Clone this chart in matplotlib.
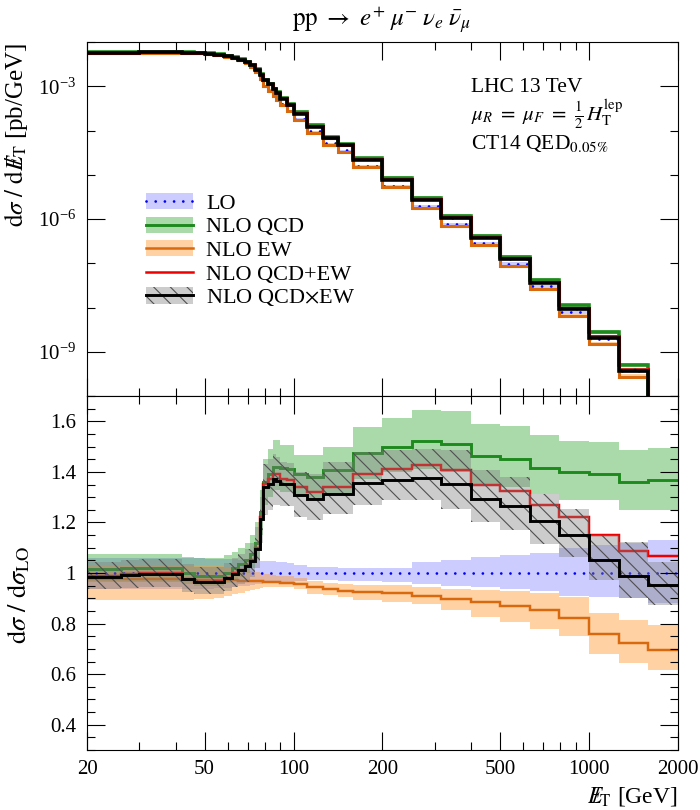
import numpy as np
import matplotlib
matplotlib.use("Agg")
import matplotlib.pyplot as plt
from matplotlib.patches import Patch
from matplotlib.lines import Line2D
from matplotlib.ticker import FixedLocator, MultipleLocator, NullFormatter

plt.rcParams['font.family'] = 'serif'
plt.rcParams['font.serif'] = ['Liberation Serif', 'DejaVu Serif']
plt.rcParams['mathtext.fontset'] = 'stix'
plt.rcParams['hatch.linewidth'] = 0.8

# bin edges in missing E_T [GeV]
edges = [20, 26, 30, 35, 42, 46, 50, 54, 58, 62, 65, 68.5, 71, 74, 77, 79, 82, 85.5, 87.5, 90,
         95, 100, 111, 126, 141, 158.5, 199.5, 251, 316, 398, 501, 631, 794, 1000, 1259, 1585, 2000]

# LO cross section [pb/GeV]
lo_xsec = [5.78e-3, 5.79e-3, 5.83e-3, 5.83e-3, 5.83e-3, 5.76e-3, 5.57e-3, 5.31e-3, 4.83e-3, 4.38e-3,
           3.94e-3, 3.38e-3, 2.82e-3, 2.14e-3, 1.50e-3, 1.03e-3, 8.11e-4, 6.19e-4, 5.19e-4, 3.88e-4,
           2.81e-4, 1.84e-4, 9.5e-5, 5.14e-5, 3.56e-5, 1.61e-5, 5.69e-6, 2.00e-6, 7.74e-7, 2.87e-7,
           9.72e-8, 3.01e-8, 7.94e-9, 1.99e-9, 3.77e-10, 5.2e-11]

# ratios to LO
lo_band_lo = [0.935, 0.935, 0.935, 0.935, 0.935, 0.937, 0.938, 0.94, 0.942, 0.945,
              0.948, 0.95, 0.952, 0.955, 0.957, 0.96, 0.962, 0.963, 0.964, 0.965,
              0.966, 0.97, 0.972, 0.971, 0.97, 0.968, 0.964, 0.958, 0.95, 0.945,
              0.937, 0.93, 0.909, 0.905, 0.90, 0.88]
lo_band_hi = [1.06, 1.06, 1.06, 1.06, 1.06, 1.058, 1.057, 1.056, 1.055, 1.054,
              1.053, 1.052, 1.051, 1.05, 1.049, 1.048, 1.047, 1.046, 1.045, 1.044,
              1.04, 1.03, 1.025, 1.022, 1.02, 1.018, 1.02, 1.044, 1.053, 1.063,
              1.07, 1.08, 1.098, 1.11, 1.12, 1.13]

qcd = [1.015, 1.02, 1.02, 1.02, 1.0, 0.99, 0.99, 0.99, 1.0, 1.02,
       1.035, 1.05, 1.075, 1.12, 1.24, 1.36, 1.39, 1.42, 1.42, 1.414,
       1.41, 1.39, 1.378, 1.406, 1.406, 1.474, 1.498, 1.521, 1.511, 1.461,
       1.452, 1.416, 1.398, 1.393, 1.36, 1.366]
qcd_lo = [0.965, 0.965, 0.965, 0.965, 0.955, 0.95, 0.95, 0.95, 0.96, 0.975,
          0.985, 1.0, 1.02, 1.05, 1.15, 1.27, 1.30, 1.33, 1.33, 1.32,
          1.32, 1.30, 1.29, 1.31, 1.31, 1.37, 1.40, 1.41, 1.40, 1.35,
          1.34, 1.314, 1.29, 1.287, 1.25, 1.25]
qcd_hi = [1.075, 1.075, 1.075, 1.075, 1.065, 1.06, 1.06, 1.06, 1.07, 1.085,
          1.10, 1.12, 1.15, 1.20, 1.33, 1.45, 1.49, 1.525, 1.525, 1.505,
          1.505, 1.465, 1.465, 1.498, 1.498, 1.577, 1.614, 1.646, 1.64, 1.588,
          1.581, 1.544, 1.524, 1.52, 1.485, 1.496]

ew = [0.978, 0.977, 0.976, 0.975, 0.974, 0.973, 0.972, 0.972, 0.971, 0.971,
      0.970, 0.970, 0.969, 0.968, 0.967, 0.966, 0.965, 0.964, 0.963, 0.962,
      0.960, 0.955, 0.945, 0.935, 0.930, 0.923, 0.919, 0.908, 0.896, 0.885,
      0.870, 0.853, 0.822, 0.757, 0.725, 0.697]
ew_lo = [0.893, 0.893, 0.893, 0.893, 0.895, 0.897, 0.898, 0.902, 0.908, 0.915,
         0.922, 0.928, 0.932, 0.937, 0.94, 0.943, 0.945, 0.945, 0.945, 0.945,
         0.945, 0.935, 0.918, 0.912, 0.905, 0.893, 0.885, 0.876, 0.853, 0.826,
         0.806, 0.78, 0.75, 0.681, 0.644, 0.615]
ew_hi = [1.03, 1.03, 1.03, 1.03, 1.03, 1.03, 1.03, 1.028, 1.025, 1.02,
         1.015, 1.01, 1.008, 1.005, 1.0, 0.998, 0.995, 0.993, 0.99, 0.99,
         0.988, 0.98, 0.97, 0.96, 0.955, 0.952, 0.951, 0.945, 0.938, 0.932,
         0.93, 0.919, 0.905, 0.84, 0.816, 0.793]

qcd_plus_ew = [0.987, 0.995, 0.999, 0.999, 0.977, 0.966, 0.965, 0.967, 0.981, 0.999,
               1.011, 1.028, 1.05, 1.10, 1.222, 1.352, 1.37, 1.392, 1.39, 1.372,
               1.366, 1.34, 1.32, 1.34, 1.34, 1.393, 1.413, 1.426, 1.406, 1.347,
               1.323, 1.268, 1.221, 1.149, 1.086, 1.066]

qcd_times_ew = [0.985, 0.993, 0.997, 0.997, 0.976, 0.965, 0.964, 0.966, 0.980, 0.998,
                1.010, 1.026, 1.048, 1.096, 1.215, 1.34, 1.353, 1.373, 1.365, 1.353,
                1.353, 1.307, 1.294, 1.314, 1.314, 1.356, 1.366, 1.377, 1.351, 1.294,
                1.264, 1.206, 1.149, 1.053, 0.987, 0.951]
prod_lo = [0.935, 0.94, 0.945, 0.945, 0.925, 0.915, 0.915, 0.915, 0.93, 0.945,
           0.955, 0.965, 0.985, 1.02, 1.12, 1.23, 1.25, 1.27, 1.27, 1.265,
           1.265, 1.22, 1.21, 1.235, 1.235, 1.27, 1.287, 1.287, 1.255, 1.2,
           1.17, 1.116, 1.063, 0.971, 0.90, 0.872]
prod_hi = [1.045, 1.05, 1.055, 1.055, 1.035, 1.025, 1.025, 1.025, 1.04, 1.06,
           1.075, 1.095, 1.12, 1.18, 1.30, 1.43, 1.45, 1.47, 1.46, 1.44,
           1.435, 1.40, 1.39, 1.44, 1.44, 1.48, 1.485, 1.49, 1.485, 1.406,
           1.38, 1.314, 1.255, 1.149, 1.122, 1.043]

edges = np.array(edges)
lo = np.array(lo_xsec)

# colours
c_lo, f_lo = '#0000ff', (0.5, 0.5, 1.0, 0.4)
c_qcd, f_qcd = '#1e8a1e', (0.17, 0.63, 0.17, 0.4)
c_ew, f_ew = '#d9690f', (1.0, 0.6, 0.2, 0.45)
c_sum = '#ee0000'
c_prod, f_prod = 'black', (0.5, 0.5, 0.5, 0.4)
dots = (0, (0.01, 3.3))


def draw(ax, norm, lw):
    ax.stairs(np.array(lo_band_hi) * norm, edges, baseline=np.array(lo_band_lo) * norm,
              fill=True, facecolor=f_lo, edgecolor='none', lw=0)
    ax.stairs(np.array(qcd_hi) * norm, edges, baseline=np.array(qcd_lo) * norm,
              fill=True, facecolor=f_qcd, edgecolor='none', lw=0)
    ax.stairs(np.array(ew_hi) * norm, edges, baseline=np.array(ew_lo) * norm,
              fill=True, facecolor=f_ew, edgecolor='none', lw=0)
    ax.stairs(np.ones(len(lo)) * norm, edges, baseline=None, color=c_lo, lw=2.0,
              linestyle=dots, capstyle='round')
    ax.stairs(np.array(qcd) * norm, edges, baseline=None, color=c_qcd, lw=lw)
    ax.stairs(np.array(ew) * norm, edges, baseline=None, color=c_ew, lw=lw * 0.85)
    ax.stairs(np.array(qcd_plus_ew) * norm, edges, baseline=None, color=c_sum, lw=lw * 0.85)
    ax.stairs(np.array(prod_hi) * norm, edges, baseline=np.array(prod_lo) * norm,
              fill=True, facecolor=f_prod, edgecolor='#505050', lw=0, hatch='\\\\')
    ax.stairs(np.array(qcd_times_ew) * norm, edges, baseline=None, color=c_prod, lw=lw)


fig = plt.figure(figsize=(7, 8.1), dpi=100)
ax1 = fig.add_axes([87 / 700, 414 / 810, 591 / 700, 354 / 810])
ax2 = fig.add_axes([87 / 700, 60 / 810, 591 / 700, 354 / 810])

draw(ax1, lo, 2.6)
draw(ax2, np.ones(len(lo)), 2.1)

for ax in (ax1, ax2):
    ax.set_xscale('log')
    ax.set_xlim(20, 2000)
    ax.xaxis.set_major_locator(FixedLocator([20, 50, 100, 200, 500, 1000, 2000]))
    ax.xaxis.set_minor_locator(FixedLocator([30, 40, 60, 70, 80, 90, 300, 400, 600, 700, 800, 900]))
    ax.xaxis.set_minor_formatter(NullFormatter())
    ax.tick_params(which='both', direction='in', top=True, right=True, width=0.8, labelsize=15)
    ax.tick_params(which='major', length=13)
    ax.tick_params(which='minor', length=5.5)
    for s in ax.spines.values():
        s.set_linewidth(0.8)

# upper panel
ax1.set_yscale('log')
ax1.set_ylim(1e-10, 1e-2)
ax1.yaxis.set_major_locator(FixedLocator([1e-9, 1e-6, 1e-3]))
ax1.yaxis.set_minor_locator(FixedLocator([10.0 ** k for k in range(-10, -1)]))
ax1.yaxis.set_minor_formatter(NullFormatter())
ax1.tick_params(labelbottom=False)
ax1.tick_params(axis='y', pad=8)

# lower panel
ax2.set_ylim(0.3, 1.7)
ax2.set_yticks([0.4, 0.6, 0.8, 1.0, 1.2, 1.4, 1.6], labels=['0.4', '0.6', '0.8', '1', '1.2', '1.4', '1.6'])
ax2.yaxis.set_minor_locator(MultipleLocator(0.05))
ax2.set_xticks([20, 50, 100, 200, 500, 1000, 2000], labels=['20', '50', '100', '200', '500', '1000', '2000'])
ax2.tick_params(axis='y', pad=8)
ax2.tick_params(axis='x', pad=7)

# texts
fig.text(382 / 700, 1 - 20 / 810,
         r'$\mathrm{pp}\ \rightarrow\ e^{+}\;\mu^{-}\;\nu_{e}\;\bar{\nu}_{\mu}$',
         ha='center', va='center', fontsize=18)
fig.text(471 / 700, 1 - 87 / 810, 'LHC 13 TeV', ha='left', va='center', fontsize=15.5)
fig.text(471 / 700, 1 - 114 / 810, r'$\mu_R\ =\ \mu_F\ =\ \frac{1}{2}\,H_\mathrm{T}^\mathrm{lep}$',
         ha='left', va='center', fontsize=15)
fig.text(471 / 700, 1 - 143 / 810, r'CT14 QED$_{0.05\%}$', ha='left', va='center', fontsize=15.5)

fig.text(16 / 700, 1 - 43 / 810, r'$\mathrm{d}\sigma\ /\ \mathrm{d}E\!\!\!/_\mathrm{T}$ [pb/GeV]',
         rotation=90, ha='center', va='top', fontsize=18)
fig.text(19 / 700, 1 - 595 / 810, r'$\mathrm{d}\sigma\ /\ \mathrm{d}\sigma_\mathrm{LO}$',
         rotation=90, ha='center', va='center', fontsize=19)
fig.text(678 / 700, 1 - 796 / 810, r'$E\!\!\!/_\mathrm{T}$ [GeV]', ha='right', va='center', fontsize=17)

# legend
handles = [
    (Patch(facecolor=f_lo, edgecolor='none'),
     Line2D([], [], color=c_lo, lw=2.0, linestyle=dots, dash_capstyle='round')),
    (Patch(facecolor=f_qcd, edgecolor='none'), Line2D([], [], color=c_qcd, lw=2.1)),
    (Patch(facecolor=f_ew, edgecolor='none'), Line2D([], [], color=c_ew, lw=1.8)),
    Line2D([], [], color=c_sum, lw=1.8),
    (Patch(facecolor=f_prod, edgecolor='#505050', lw=0, hatch='\\\\'), Line2D([], [], color=c_prod, lw=2.1)),
]
labels = ['LO', 'NLO QCD', 'NLO EW', 'NLO QCD+EW', r'NLO QCD$\times$EW']
fig.legend(handles, labels, loc='upper left', bbox_to_anchor=(146 / 700, 1 - 193 / 810),
           frameon=False, fontsize=16, handlelength=2.1, handleheight=0.75,
           handletextpad=0.6, labelspacing=0.12, borderpad=0, borderaxespad=0)

fig.savefig('out.png', dpi=100)
